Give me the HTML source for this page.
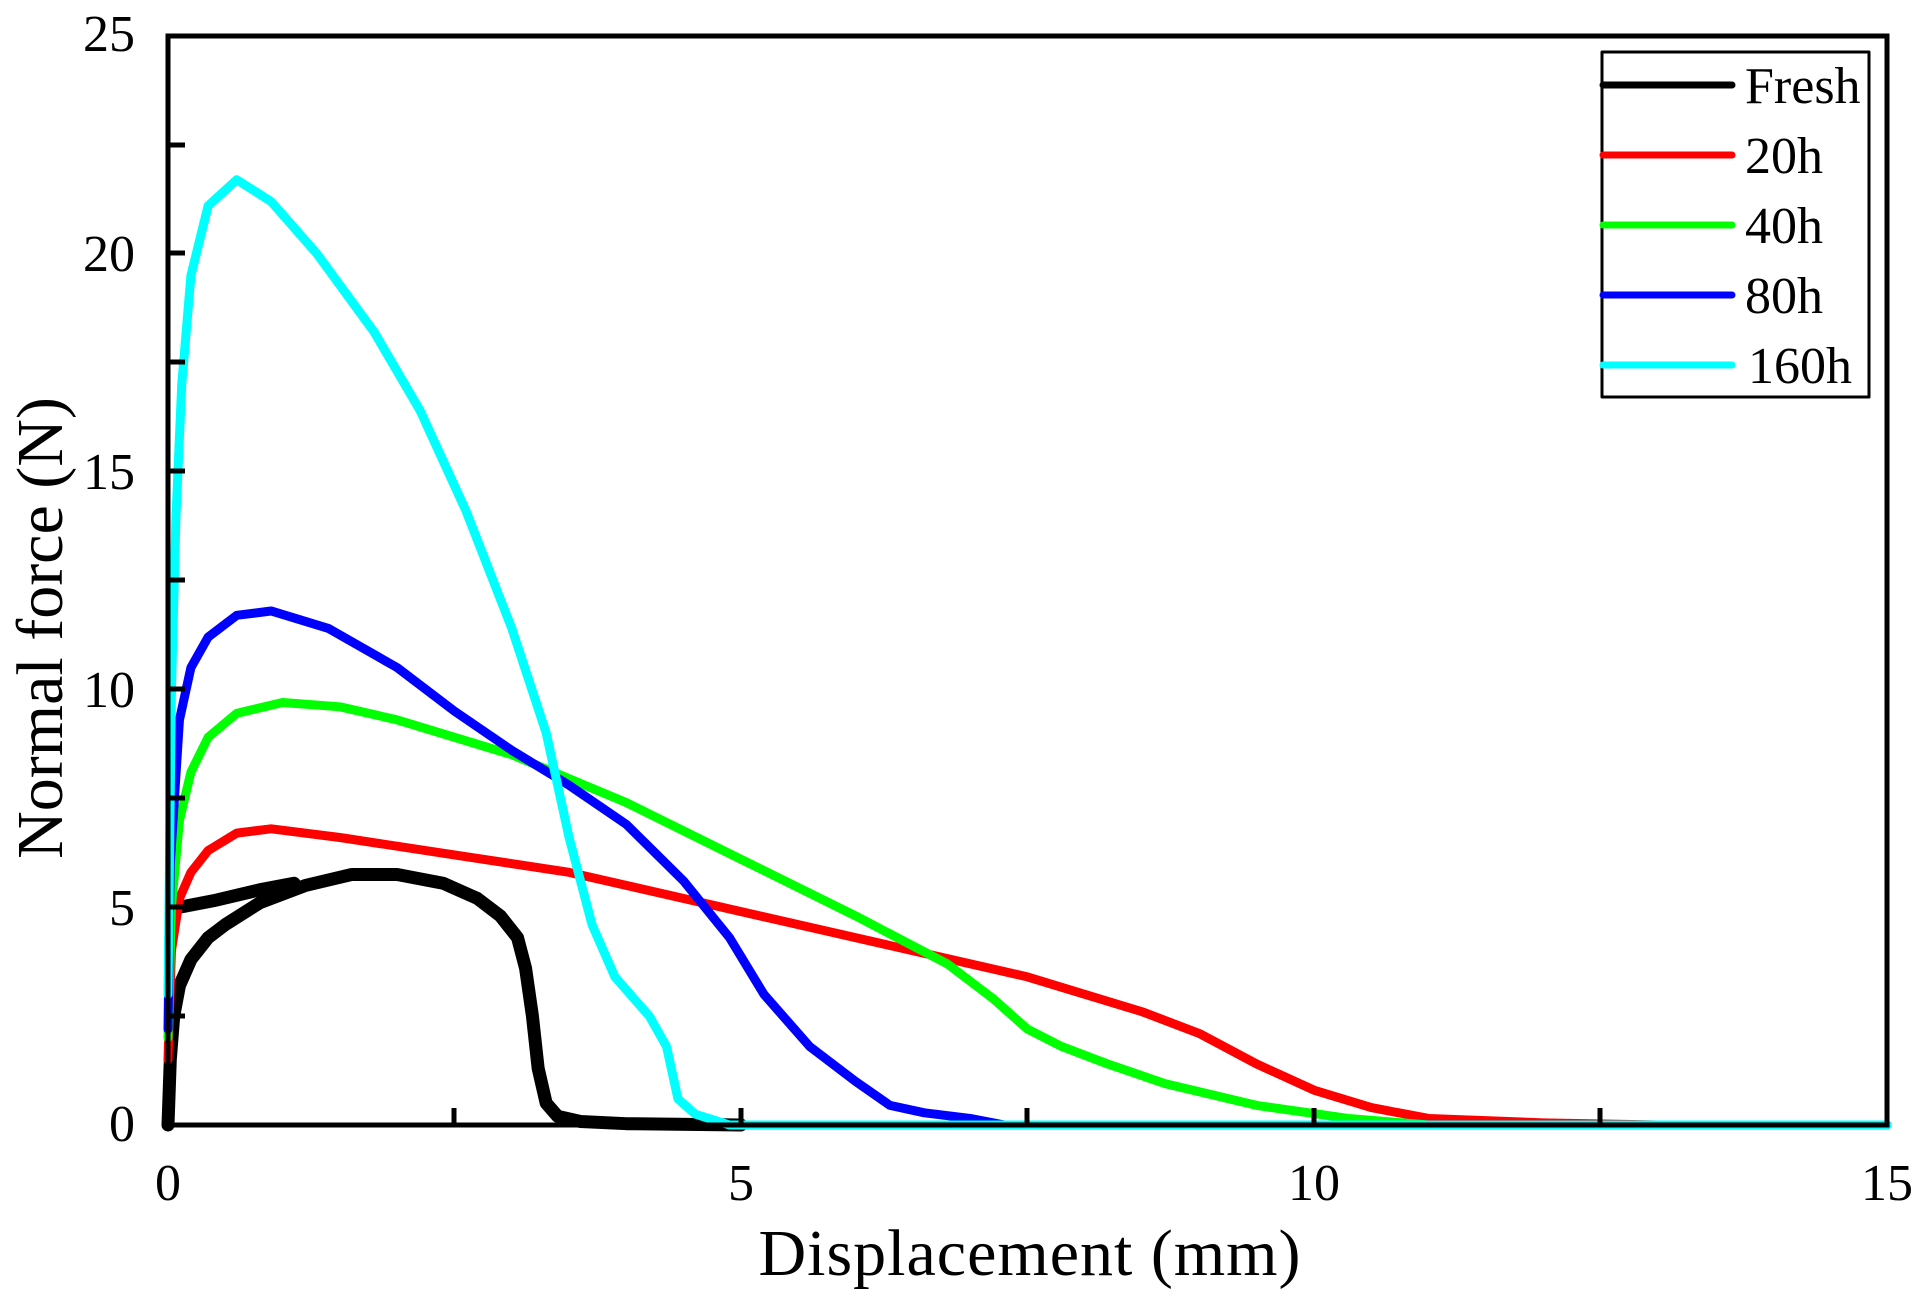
<!DOCTYPE html>
<html><head><meta charset="utf-8"><style>
html,body{margin:0;padding:0;background:#fff;}
svg{display:block;}
text{font-family:"Liberation Serif",serif;fill:#000;}
</style></head><body>
<svg width="1930" height="1301" viewBox="0 0 1930 1301" xmlns="http://www.w3.org/2000/svg">
<g fill="none" stroke-linejoin="round" stroke-linecap="round">
<g transform="translate(168,1125) scale(114.6,-43.56)">
<polyline vector-effect="non-scaling-stroke" stroke="#000" stroke-width="13" points="0,0 0.02,1.5 0.05,2.5 0.1,3.2 0.2,3.8 0.35,4.3 0.5,4.6 0.8,5.1 1.2,5.5 1.6,5.75 2.0,5.75 2.4,5.55 2.7,5.2 2.9,4.8 3.05,4.3 3.12,3.6 3.18,2.5 3.23,1.3 3.3,0.5 3.4,0.2 3.6,0.08 4,0.03 5,0"/>
<polyline vector-effect="non-scaling-stroke" stroke="#000" stroke-width="13" points="0.1,5.0 0.4,5.15 0.8,5.4 1.1,5.55"/>
<polyline vector-effect="non-scaling-stroke" stroke="#f00" stroke-width="9" points="0,1.5 0.03,4 0.1,5.2 0.2,5.8 0.35,6.3 0.6,6.7 0.9,6.8 1.5,6.6 2.5,6.2 3.5,5.8 4.5,5.2 5.5,4.6 6.5,4.0 7.5,3.4 8.5,2.6 9.0,2.1 9.5,1.4 10,0.8 10.5,0.4 11,0.15 12,0.05 13,0 15,0"/>
<polyline vector-effect="non-scaling-stroke" stroke="#0f0" stroke-width="9" points="0,2 0.03,5 0.1,7 0.2,8.1 0.35,8.9 0.6,9.45 1,9.7 1.5,9.6 2,9.3 3,8.5 4,7.4 5,6.1 6,4.8 6.8,3.7 7.2,2.9 7.5,2.2 7.8,1.8 8.2,1.4 8.7,0.95 9.5,0.45 10.3,0.15 11,0 15,0"/>
<polyline vector-effect="non-scaling-stroke" stroke="#00f" stroke-width="9" points="0,2.2 0.02,6 0.1,9.3 0.2,10.5 0.35,11.2 0.6,11.7 0.9,11.8 1.4,11.4 2,10.5 2.5,9.5 3,8.6 3.5,7.8 4,6.9 4.5,5.6 4.9,4.3 5.2,3.0 5.6,1.8 6,1.0 6.3,0.45 6.6,0.28 7,0.15 7.3,0 15,0"/>
<polyline vector-effect="non-scaling-stroke" stroke="#0ff" stroke-width="9" points="0,3 0.03,10 0.07,14 0.12,17 0.2,19.5 0.35,21.1 0.6,21.7 0.9,21.2 1.3,20 1.8,18.2 2.2,16.4 2.6,14.1 3.0,11.4 3.3,9.0 3.5,6.6 3.7,4.6 3.9,3.4 4.2,2.5 4.35,1.8 4.45,0.6 4.6,0.25 4.9,0 15,0"/>
</g>
<rect x="168" y="36" width="1719" height="1089" stroke="#000" stroke-width="5" stroke-linejoin="miter"/>
<g stroke="#000" stroke-width="5" stroke-linecap="butt">
<path d="M168,1016H185M168,907H185M168,798H185M168,689H185M168,580H185M168,471H185M168,362H185M168,253H185M168,145H185"/>
<path d="M454,1125V1108M741,1125V1108M1027,1125V1108M1314,1125V1108M1600,1125V1108"/>
</g>
<rect x="1602" y="52" width="267" height="345" stroke="#000" stroke-width="3"/>
<g stroke-width="7">
<path d="M1603,85H1732" stroke="#000"/>
<path d="M1603,155H1732" stroke="#f00"/>
<path d="M1603,225H1732" stroke="#0f0"/>
<path d="M1603,295H1732" stroke="#00f"/>
<path d="M1603,365H1732" stroke="#0ff"/>
</g>
</g>
<g font-size="52">
<text x="1745" y="103">Fresh</text>
<text x="1745" y="173">20h</text>
<text x="1745" y="243">40h</text>
<text x="1745" y="313">80h</text>
<text x="1748" y="383">160h</text>
<g text-anchor="end">
<text x="135" y="51">25</text>
<text x="135" y="271">20</text>
<text x="135" y="489">15</text>
<text x="135" y="707">10</text>
<text x="135" y="925">5</text>
<text x="135" y="1141">0</text>
</g>
<g text-anchor="middle">
<text x="168" y="1200">0</text>
<text x="741" y="1200">5</text>
<text x="1314" y="1200">10</text>
<text x="1887" y="1200">15</text>
</g>
</g>
<text x="1030" y="1275" font-size="66" text-anchor="middle" letter-spacing="1">Displacement (mm)</text>
<text transform="translate(62,628) rotate(-90)" font-size="66" text-anchor="middle">Normal force (N)</text>
</svg>
</body></html>
